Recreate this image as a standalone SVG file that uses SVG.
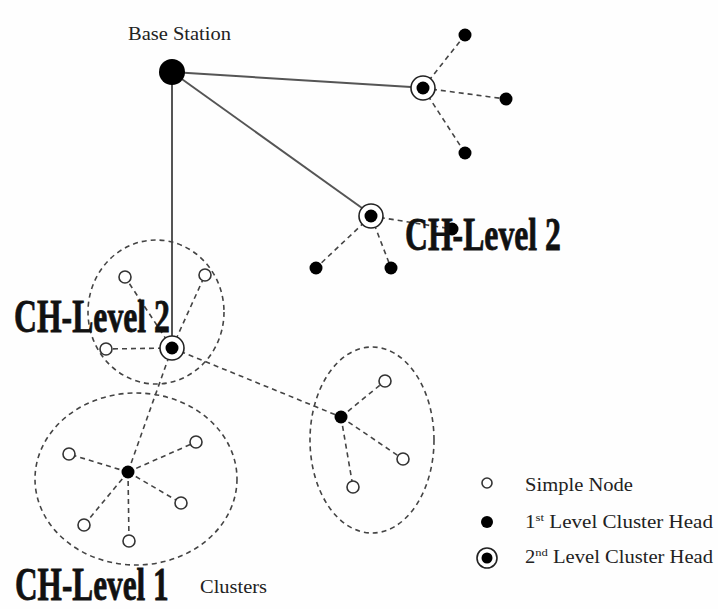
<svg xmlns="http://www.w3.org/2000/svg" width="718" height="609" viewBox="0 0 718 609">
<style>
.bg{fill:#fefefe}
.solid{stroke:#555;stroke-width:2;fill:none}
.dash{stroke:#444;stroke-width:1.6;stroke-dasharray:5 4;fill:none}
.simple{fill:#fff;stroke:#333;stroke-width:1.6}
.ch1{fill:#000}
.ch2o{fill:#fff;stroke:#222;stroke-width:1.6}
.big{font-family:"Liberation Serif",serif;font-weight:bold;font-size:46px;fill:#111;stroke:#111;stroke-width:0.8}
.lbl{font-family:"Liberation Serif",serif;font-size:18px;fill:#222}
</style>
<rect class="bg" x="0" y="0" width="718" height="609"/>
<g id="connectors">
<line class="solid" x1="172" y1="72" x2="411" y2="87"/>
<line class="solid" x1="172" y1="72" x2="362" y2="208"/>
<line class="solid" x1="172" y1="72" x2="172" y2="336"/>
<line class="dash" x1="423" y1="88" x2="465" y2="35"/>
<line class="dash" x1="423" y1="88" x2="506" y2="99"/>
<line class="dash" x1="423" y1="88" x2="465" y2="153"/>
<line class="dash" x1="371" y1="216" x2="316" y2="268"/>
<line class="dash" x1="371" y1="216" x2="391" y2="268"/>
<line class="dash" x1="371" y1="216" x2="452" y2="229"/>
<line class="dash" x1="172" y1="348" x2="125" y2="277"/>
<line class="dash" x1="172" y1="348" x2="205" y2="275"/>
<line class="dash" x1="172" y1="348" x2="106" y2="349"/>
<line class="dash" x1="172" y1="348" x2="128" y2="472"/>
<line class="dash" x1="172" y1="348" x2="341" y2="417"/>
<line class="dash" x1="128" y1="472" x2="69" y2="454"/>
<line class="dash" x1="128" y1="472" x2="196" y2="442"/>
<line class="dash" x1="128" y1="472" x2="181" y2="503"/>
<line class="dash" x1="128" y1="472" x2="84" y2="525"/>
<line class="dash" x1="128" y1="472" x2="129" y2="541"/>
<line class="dash" x1="341" y1="417" x2="385" y2="381"/>
<line class="dash" x1="341" y1="417" x2="403" y2="459"/>
<line class="dash" x1="341" y1="417" x2="353" y2="487"/>
</g>
<g id="clusters">
<ellipse class="dash" cx="156" cy="312" rx="68" ry="72"/>
<ellipse class="dash" cx="136" cy="479" rx="101" ry="86"/>
<ellipse class="dash" cx="372" cy="440" rx="62" ry="93"/>
</g>
<g id="base-station"><circle class="ch1" cx="172" cy="72" r="13"/><text class="lbl" x="128" y="40" textLength="103" lengthAdjust="spacingAndGlyphs">Base Station</text></g>
<g id="ch2-top"><circle class="ch2o" cx="423" cy="88" r="12"/><circle class="ch1" cx="423" cy="88" r="6.5"/></g>
<g id="n-t1"><circle class="ch1" cx="465" cy="35" r="6.5"/></g>
<g id="n-t2"><circle class="ch1" cx="506" cy="99" r="6.5"/></g>
<g id="n-t3"><circle class="ch1" cx="465" cy="153" r="6.5"/></g>
<g id="ch2-mid"><circle class="ch2o" cx="371" cy="216" r="12"/><circle class="ch1" cx="371" cy="216" r="6.5"/></g>
<g id="n-m1"><circle class="ch1" cx="316" cy="268" r="6.5"/></g>
<g id="n-m2"><circle class="ch1" cx="391" cy="268" r="6.5"/></g>
<g id="n-m3"><circle class="ch1" cx="452" cy="229" r="6.5"/></g>
<g id="ch2-left"><circle class="ch2o" cx="172" cy="348" r="12"/><circle class="ch1" cx="172" cy="348" r="6.5"/></g>
<g id="s-l1"><circle class="simple" cx="125" cy="277" r="6"/></g>
<g id="s-l2"><circle class="simple" cx="205" cy="275" r="6"/></g>
<g id="s-l3"><circle class="simple" cx="106" cy="349" r="6"/></g>
<g id="ch1-left"><circle class="ch1" cx="128" cy="472" r="6.5"/></g>
<g id="s-b1"><circle class="simple" cx="69" cy="454" r="6"/></g>
<g id="s-b2"><circle class="simple" cx="196" cy="442" r="6"/></g>
<g id="s-b3"><circle class="simple" cx="181" cy="503" r="6"/></g>
<g id="s-b4"><circle class="simple" cx="84" cy="525" r="6"/></g>
<g id="s-b5"><circle class="simple" cx="129" cy="541" r="6"/></g>
<g id="ch1-right"><circle class="ch1" cx="341" cy="417" r="6.5"/></g>
<g id="s-r1"><circle class="simple" cx="385" cy="381" r="6"/></g>
<g id="s-r2"><circle class="simple" cx="403" cy="459" r="6"/></g>
<g id="s-r3"><circle class="simple" cx="353" cy="487" r="6"/></g>
<g id="labels">
<text class="big" transform="translate(405,250) scale(0.69,1)">CH-Level 2</text>
<text class="big" transform="translate(14,332) scale(0.69,1)">CH-Level 2</text>
<text class="big" transform="translate(15,600) scale(0.68,1)">CH-Level 1</text>
<text class="lbl" x="200" y="593" textLength="67" lengthAdjust="spacingAndGlyphs">Clusters</text>
</g>
<g id="legend">
<circle class="simple" cx="487" cy="483" r="5"/>
<circle class="ch1" cx="487" cy="522" r="6"/>
<circle class="ch2o" cx="487" cy="558" r="10"/><circle class="ch1" cx="487" cy="558" r="5.5"/>
<text class="lbl" x="525" y="491" textLength="108" lengthAdjust="spacingAndGlyphs">Simple Node</text>
<text class="lbl" x="525" y="528" textLength="188" lengthAdjust="spacingAndGlyphs">1<tspan font-size="11" dy="-7">st</tspan><tspan dy="7"> Level Cluster Head</tspan></text>
<text class="lbl" x="525" y="563" textLength="188" lengthAdjust="spacingAndGlyphs">2<tspan font-size="11" dy="-7">nd</tspan><tspan dy="7"> Level Cluster Head</tspan></text>
</g>
</svg>
